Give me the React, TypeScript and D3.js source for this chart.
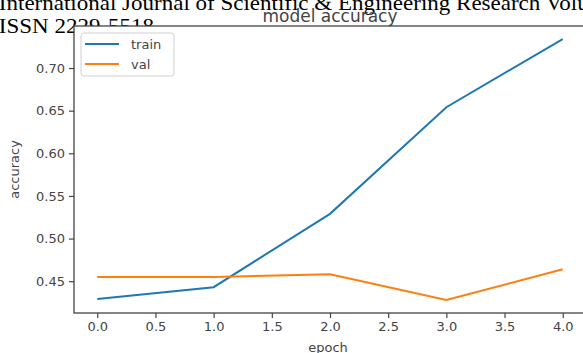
import React, { useRef, useEffect } from 'react';
import * as d3 from 'd3';

const epochs = [0, 1, 2, 3, 4];
const trainAcc = [0.429, 0.443, 0.529, 0.654, 0.734];
const valAcc = [0.455, 0.455, 0.458, 0.428, 0.464];
const xTicks = [0, 0.5, 1, 1.5, 2, 2.5, 3, 3.5, 4];
const yTicks = [0.45, 0.5, 0.55, 0.6, 0.65, 0.7];
const seriesNames = ['train', 'val'];
const colors = ['#1f77b4', '#ff7f0e'];

function AccuracyChart() {
    const ref = useRef<SVGSVGElement>(null);

    useEffect(() => {
        const width = 583;
        const height = 353;
        const left = 74;
        const right = 586;
        const top = 26;
        const bottom = 313;
        const font = 'DejaVu Sans, sans-serif';

        const svg = d3.select(ref.current);
        svg.selectAll('*').remove();
        svg.attr('width', width).attr('height', height);

        svg.append('rect').attr('width', width).attr('height', height).attr('fill', '#fff');

        // journal header sits behind the plot
        const header = svg
            .append('g')
            .attr('font-family', 'Liberation Serif, serif')
            .attr('font-size', 20)
            .attr('fill', '#000');
        header
            .append('text')
            .attr('x', -1)
            .attr('y', 9.5)
            .attr('transform', 'scale(1.15,1)')
            .text('International Journal of Scientific & Engineering Research Volume');
        header
            .append('text')
            .attr('x', -1)
            .attr('y', 33)
            .attr('transform', 'scale(1.15,1)')
            .text('ISSN 2229-5518');

        svg
            .append('text')
            .attr('x', (left + right) / 2)
            .attr('y', 22)
            .attr('text-anchor', 'middle')
            .attr('font-family', font)
            .attr('font-size', 17)
            .attr('fill', '#444')
            .text('model accuracy');

        const allVals = trainAcc.concat(valAcc);
        const lo = d3.min(allVals) as number;
        const hi = d3.max(allVals) as number;
        const pad = (hi - lo) * 0.05;

        const x = d3.scaleLinear().domain([-0.2, 4.2]).range([left, right]);
        const y = d3.scaleLinear().domain([lo - pad, hi + pad]).range([bottom, top]);

        svg
            .append('rect')
            .attr('x', left)
            .attr('y', top)
            .attr('width', right - left)
            .attr('height', bottom - top)
            .attr('fill', '#fff');

        const xAxis = svg
            .append('g')
            .attr('transform', 'translate(0,' + bottom + ')')
            .call(
                d3.axisBottom(x)
                    .tickValues(xTicks)
                    .tickFormat(d3.format('.1f'))
                    .tickSize(5)
                    .tickPadding(4)
            );
        const yAxis = svg
            .append('g')
            .attr('transform', 'translate(' + left + ',0)')
            .call(
                d3.axisLeft(y)
                    .tickValues(yTicks)
                    .tickFormat(d3.format('.2f'))
                    .tickSize(5)
                    .tickPadding(4)
            );
        [xAxis, yAxis].forEach((a) => {
            a.select('.domain').remove();
            a.selectAll('line').attr('stroke', '#444').attr('stroke-width', 1.2);
            a.selectAll('text')
                .attr('font-family', font)
                .attr('font-size', 13)
                .attr('fill', '#444');
        });

        const line = d3
            .line<number>()
            .x((d, i) => x(epochs[i]))
            .y((d) => y(d));

        [trainAcc, valAcc].forEach((vals, i) => {
            svg
                .append('path')
                .datum(vals)
                .attr('d', line)
                .attr('fill', 'none')
                .attr('stroke', colors[i])
                .attr('stroke-width', 2);
        });

        // frame
        svg
            .append('rect')
            .attr('x', left)
            .attr('y', top)
            .attr('width', right - left)
            .attr('height', bottom - top)
            .attr('fill', 'none')
            .attr('stroke', '#444')
            .attr('stroke-width', 1.3);

        const legend = svg.append('g').attr('transform', 'translate(81,33)');
        legend
            .append('rect')
            .attr('width', 93)
            .attr('height', 43)
            .attr('rx', 3)
            .attr('fill', '#fff')
            .attr('fill-opacity', 0.8)
            .attr('stroke', '#d0d0d0');
        seriesNames.forEach((name, i) => {
            legend
                .append('line')
                .attr('x1', 4)
                .attr('x2', 38)
                .attr('y1', 11 + i * 20)
                .attr('y2', 11 + i * 20)
                .attr('stroke', colors[i])
                .attr('stroke-width', 2);
            legend
                .append('text')
                .attr('x', 50)
                .attr('y', 15.5 + i * 20)
                .attr('font-family', font)
                .attr('font-size', 13)
                .attr('fill', '#444')
                .text(name);
        });

        svg
            .append('text')
            .attr('x', (left + right) / 2 - 2)
            .attr('y', 352)
            .attr('text-anchor', 'middle')
            .attr('font-family', font)
            .attr('font-size', 13)
            .attr('fill', '#444')
            .text('epoch');

        svg
            .append('text')
            .attr('transform', 'translate(19,' + (top + bottom) / 2 + ') rotate(-90)')
            .attr('text-anchor', 'middle')
            .attr('font-family', font)
            .attr('font-size', 13)
            .attr('fill', '#444')
            .text('accuracy');
    }, []);

    return <svg ref={ref} style={{ position: 'absolute', left: 0, top: 0, display: 'block' }} />;
}

export default function App() {
    return <AccuracyChart />;
}
